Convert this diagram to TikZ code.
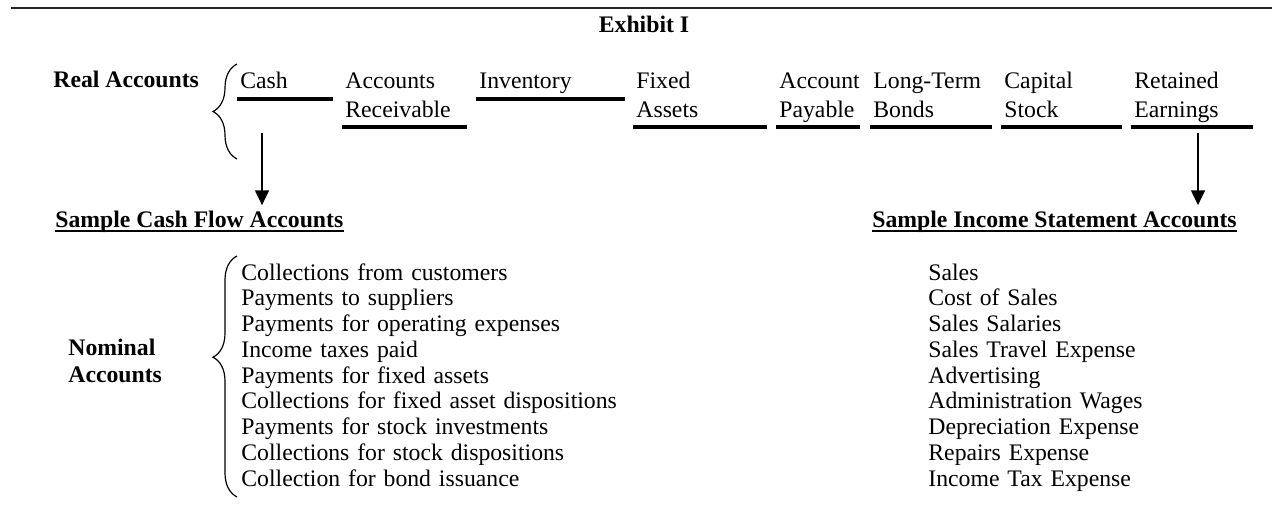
\documentclass[tikz,border=0pt]{standalone}
\usepackage{fontspec}
\setmainfont{Liberation Serif}
\usetikzlibrary{arrows.meta,positioning,decorations.pathreplacing}
\newlength{\upx}
\setlength{\upx}{0.506pt}
\tikzset{
  >={Triangle[length=7.5pt,width=7pt]},
  title/.style={font=\bfseries\fontsize{12}{13.7}\selectfont, inner sep=0pt},
  acct/.style={anchor=base west, align=left, inner xsep=3\upx, inner ysep=0pt, font=\fontsize{12}{14.2}\selectfont},
  itemlist/.style={anchor=base west, align=left, inner sep=0pt, font=\fontsize{12}{13.05}\selectfont},
  uline/.style={line width=2\upx*2},
  hline/.style={line width=2\upx},
  arr/.style={->, line width=2\upx},
  brc/.style={decorate, decoration={brace, amplitude=24\upx}, line width=0.6pt},
  toprule/.style={line width=1.4\upx, black!85},
}
\begin{document}
\begin{tikzpicture}[x=\upx, y=-\upx]
  \useasboundingbox (0,0) rectangle (1272,529);

  % header
  \coordinate (rulel) at (11,8);
  \coordinate (ruler) at (1272,8);
  \draw[toprule] (rulel) -- (ruler);
  \node[title] (exhibit) at (644,24) {Exhibit I};

  % real accounts
  \node[title, anchor=base west] (real) at (53,88) {Real Accounts};
  \node[acct, text width=89\upx] (cash) at (237,89) {Cash};
  \node[acct, text width=118\upx] (recv) at (342,89) {Accounts\\Receivable};
  \node[acct, text width=142\upx] (inv) at (476,89) {Inventory};
  \node[acct, text width=127\upx] (fixed) at (633,89) {Fixed\\Assets};
  \node[acct, text width=77\upx] (payable) at (776,89) {Account\\Payable};
  \node[acct, text width=115\upx] (bonds) at (870,89) {Long-Term\\Bonds};
  \node[acct, text width=114\upx] (capital) at (1001,89) {Capital\\Stock};
  \node[acct, text width=115\upx] (retained) at (1131,89) {Retained\\Earnings};

  \coordinate (rowa) at (0,99);
  \coordinate (rowb) at (0,127);
  \draw[uline] (cash.west |- rowa) -- (cash.east |- rowa);
  \draw[uline] (recv.west |- rowb) -- (recv.east |- rowb);
  \draw[uline] (inv.west |- rowa) -- (inv.east |- rowa);
  \draw[uline] (fixed.west |- rowb) -- (fixed.east |- rowb);
  \draw[uline] (payable.west |- rowb) -- (payable.east |- rowb);
  \draw[uline] (bonds.west |- rowb) -- (bonds.east |- rowb);
  \draw[uline] (capital.west |- rowb) -- (capital.east |- rowb);
  \draw[uline] (retained.west |- rowb) -- (retained.east |- rowb);

  \draw[brc] (237,159) -- (237,64);

  % sample headings
  \node[title, anchor=base west, inner ysep=5\upx] (cfhead) at (55,227) {Sample Cash Flow Accounts};
  \node[title, anchor=base west, inner ysep=5\upx] (ishead) at (872,227) {Sample Income Statement Accounts};
  \draw[hline] ([yshift=-4\upx]cfhead.base west) -- ([yshift=-4\upx]cfhead.base east);
  \draw[hline] ([yshift=-4\upx]ishead.base west) -- ([yshift=-4\upx]ishead.base east);

  \coordinate (cashtap) at (262,133);
  \coordinate (retaintap) at (1198,133);
  \draw[arr] (cashtap) -- (cashtap |- cfhead.north);
  \draw[arr] (retaintap) -- (retaintap |- ishead.north);

  % nominal accounts
  \node[title, anchor=base west, text width=110\upx] (nominal) at (68,355) {Nominal\\Accounts};
  \draw[brc, decoration={aspect=0.58}] (237,497) -- (237,256);

  \node[itemlist, text width=420\upx] (cflist) at (241,280) {Collections from customers\\
    Payments to suppliers\\
    Payments for operating expenses\\
    Income taxes paid\\
    Payments for fixed assets\\
    Collections for fixed asset dispositions\\
    Payments for stock investments\\
    Collections for stock dispositions\\
    Collection for bond issuance};
  \node[itemlist, text width=320\upx] (islist) at (928,280) {Sales\\
    Cost of Sales\\
    Sales Salaries\\
    Sales Travel Expense\\
    Advertising\\
    Administration Wages\\
    Depreciation Expense\\
    Repairs Expense\\
    Income Tax Expense};
\end{tikzpicture}
\end{document}
